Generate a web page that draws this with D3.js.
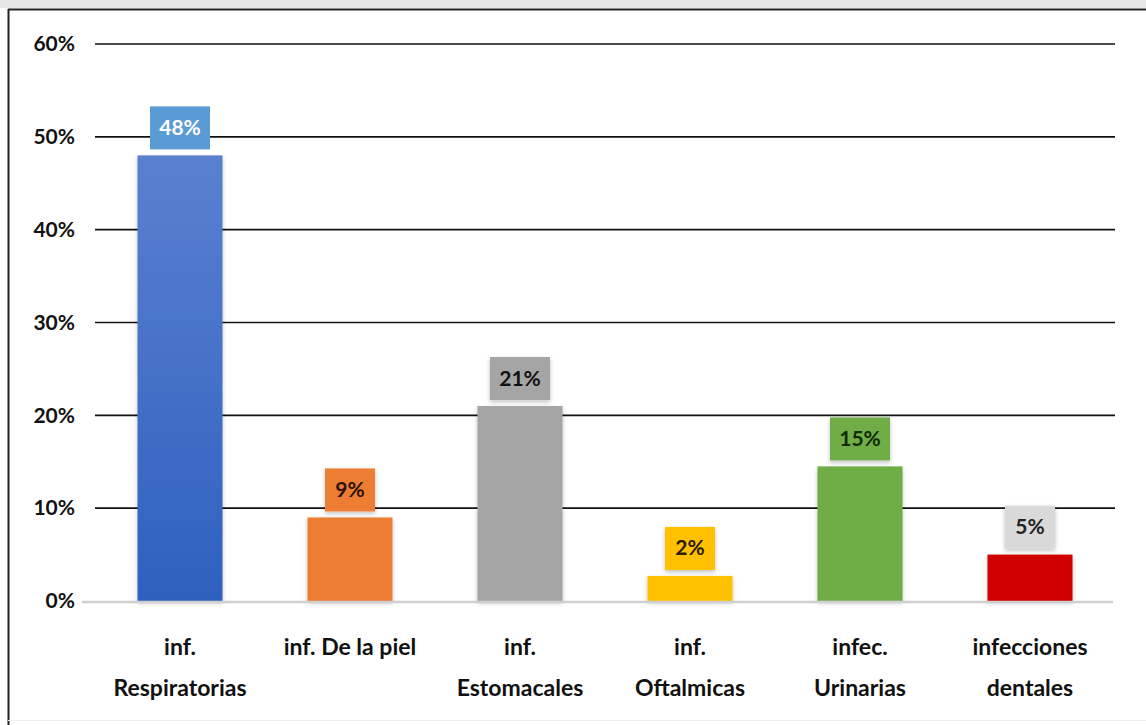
<!DOCTYPE html>
<html>
<head>
<meta charset="utf-8">
<script src="https://cdn.jsdelivr.net/npm/d3@7"></script>
<style>
  body { margin: 0; background: #fff; }
  text { font-family: Lato, "Open Sans", sans-serif; font-weight: bold; }
</style>
</head>
<body>
<div id="plot"></div>
<script>
// chart data
const categories = [
  ["inf.", "Respiratorias"],
  ["inf. De la piel"],
  ["inf.", "Estomacales"],
  ["inf.", "Oftalmicas"],
  ["infec.", "Urinarias"],
  ["infecciones", "dentales"]
];
const values = [0.48, 0.09, 0.21, 0.027, 0.145, 0.05];
const labels = ["48%", "9%", "21%", "2%", "15%", "5%"];
const yTicks = [0, 0.1, 0.2, 0.3, 0.4, 0.5, 0.6];

const barColors = ["#4472c4", "#ed7d31", "#a5a5a5", "#ffc000", "#70ad47", "#d00000"];
const boxColors = ["#5b9bd5", "#ed7d31", "#a5a5a5", "#ffc000", "#70ad47", "#d9d9d9"];
const boxText = ["#ffffff", "#2a1400", "#111111", "#2a1a00", "#0f2a05", "#222222"];

const svgWidth = 1146, svgHeight = 725;
const margin = { top: 44, right: 31, bottom: 124, left: 95 };
const width = svgWidth - margin.left - margin.right;
const height = svgHeight - margin.top - margin.bottom;

const root = d3.select('#plot')
    .append('svg')
    .attr("width", svgWidth)
    .attr("height", svgHeight);

// outer frame like the pasted screenshot
root.append("rect").attr("x", 0).attr("y", 0).attr("width", svgWidth).attr("height", 8).attr("fill", "#e6e6e6");
root.append("line").attr("x1", 8).attr("x2", svgWidth).attr("y1", 9.5).attr("y2", 9.5).attr("stroke", "#222").attr("stroke-width", 2);
root.append("line").attr("x1", 8.5).attr("x2", 8.5).attr("y1", 9).attr("y2", svgHeight).attr("stroke", "#222").attr("stroke-width", 2);
root.append("line").attr("x1", 8).attr("x2", svgWidth).attr("y1", 720.5).attr("y2", 720.5).attr("stroke", "#eee").attr("stroke-width", 1);

const svg = root.append("g")
    .attr("transform", "translate(" + margin.left + "," + margin.top + ")");

const defs = root.append("defs");
const blueGrad = defs.append("linearGradient").attr("id", "blueGrad")
    .attr("x1", 0).attr("x2", 0).attr("y1", 0).attr("y2", 1);
blueGrad.append("stop").attr("offset", "0%").attr("stop-color", "#5a80d0");
blueGrad.append("stop").attr("offset", "100%").attr("stop-color", "#2f60bf");

const shadow = defs.append("filter").attr("id", "shadow")
    .attr("x", "-20%").attr("y", "-20%").attr("width", "140%").attr("height", "140%");
shadow.append("feDropShadow").attr("dx", 0).attr("dy", 2).attr("stdDeviation", 2)
    .attr("flood-color", "#000").attr("flood-opacity", 0.25);

const x = d3.scaleBand()
    .domain(d3.range(categories.length))
    .range([0, width])
    .paddingInner(0.5)
    .paddingOuter(0.25);

const y = d3.scaleLinear()
    .domain([0, 0.6])
    .range([height, 0]);

// gridlines
svg.selectAll(".grid")
    .data(yTicks.filter(d => d > 0))
    .enter()
    .append("line")
    .attr("x1", 0)
    .attr("x2", width)
    .attr("y1", d => y(d))
    .attr("y2", d => y(d))
    .attr("stroke", "#111")
    .attr("stroke-width", 1.6);

// y axis labels
const yAxis = svg.append("g")
    .call(d3.axisLeft(y).tickValues(yTicks).tickFormat(d3.format(".0%")).tickSize(0).tickPadding(20));
yAxis.select(".domain").remove();
yAxis.selectAll("text")
    .style("font-size", "21px")
    .attr("fill", "#111");

// bars
svg.selectAll(".bar")
    .data(values)
    .enter()
    .append("rect")
    .attr("x", (d, i) => x(i))
    .attr("y", d => y(d))
    .attr("width", x.bandwidth())
    .attr("height", d => height - y(d))
    .attr("fill", (d, i) => i === 0 ? "url(#blueGrad)" : barColors[i])
    .attr("filter", "url(#shadow)");

// baseline
svg.append("line")
    .attr("x1", -13).attr("x2", width - 2)
    .attr("y1", y(0) + 1).attr("y2", y(0) + 1)
    .attr("stroke", "#d0d0d0").attr("stroke-width", 2.5);

// value label boxes
const boxW = i => labels[i].length > 2 ? 60 : 50;
const lbl = svg.selectAll(".lbl")
    .data(values)
    .enter()
    .append("g")
    .attr("transform", (d, i) => "translate(" + (x(i) + x.bandwidth() / 2) + "," + (y(d) - 28) + ")");
lbl.append("rect")
    .attr("x", (d, i) => -boxW(i) / 2)
    .attr("y", -21)
    .attr("width", (d, i) => boxW(i))
    .attr("height", 43)
    .attr("fill", (d, i) => boxColors[i])
    .attr("filter", (d, i) => i === 0 ? null : "url(#shadow)");
lbl.append("text")
    .attr("text-anchor", "middle")
    .attr("dy", "0.36em")
    .style("font-size", "21px")
    .attr("fill", (d, i) => boxText[i])
    .text((d, i) => labels[i]);

// category labels
const cat = svg.selectAll(".cat")
    .data(categories)
    .enter()
    .append("text")
    .attr("text-anchor", "middle")
    .attr("x", (d, i) => x(i) + x.bandwidth() / 2)
    .attr("y", height + 54)
    .style("font-size", "23px")
    .attr("fill", "#111");
cat.selectAll("tspan")
    .data(d => d)
    .enter()
    .append("tspan")
    .attr("x", function() { return this.parentNode.getAttribute("x"); })
    .attr("dy", (d, i) => i === 0 ? 0 : 41)
    .text(d => d);
</script>
</body>
</html>
